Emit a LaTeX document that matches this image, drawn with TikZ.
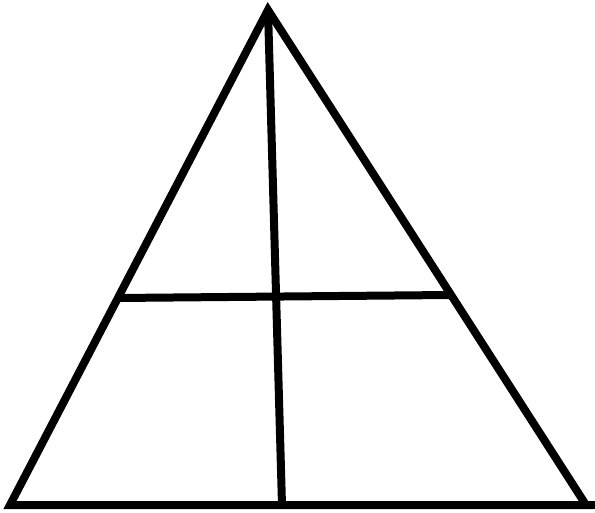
\documentclass[tikz,border=0pt]{standalone}
\usepackage{tikz}

\tikzset{bar/.style={line width=8pt}}

\begin{document}
\begin{tikzpicture}[x=1pt, y=-1pt]
\useasboundingbox (0,0) rectangle (595,513);
\coordinate (apex) at (268,10);
\coordinate (left) at (10,505);
\coordinate (right) at (586,505);
\coordinate (foot) at (282,505);
\coordinate (midl) at (118,298);
\coordinate (midr) at (450,295);
\coordinate (edge) at (595,505);

\draw[bar] (apex) -- (right) -- (left) -- cycle; %outer triangle
\draw[bar] (right) -- (edge); % base runs on to the edge
\draw[bar] (apex) -- (foot); % vertical line
\draw[bar] (midl) -- (midr); % cross line
\end{tikzpicture}
\end{document}
